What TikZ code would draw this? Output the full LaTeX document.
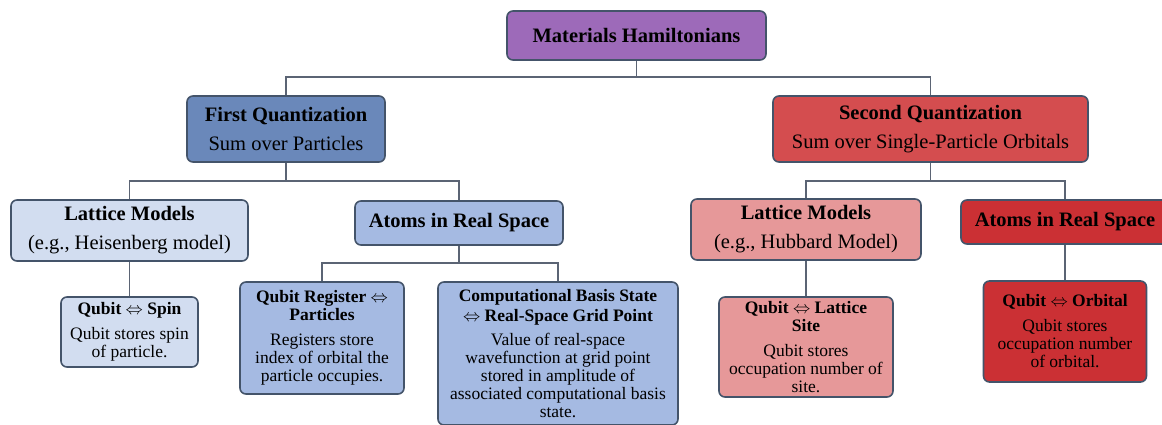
\documentclass[tikz,border=0pt]{standalone}
\usepackage{fontspec}
\setmainfont{Liberation Serif}

\definecolor{hamPurple}{HTML}{9D6AB9}
\definecolor{firstBlue}{HTML}{6A88BA}
\definecolor{paleBlue}{HTML}{D2DDF0}
\definecolor{midBlue}{HTML}{A5BAE2}
\definecolor{secondRed}{HTML}{D44D4F}
\definecolor{paleRed}{HTML}{E69899}
\definecolor{deepRed}{HTML}{CB3034}
\definecolor{boxLine}{HTML}{44546A}
\definecolor{linkGray}{HTML}{5B6474}

\begin{document}
\begin{tikzpicture}[x=1pt, y=-1pt,
  box/.style={draw=boxLine, line width=1.6pt, rounded corners=6pt, align=center, inner sep=2pt},
  head/.style={box, font=\fontsize{20.5}{29}\selectfont},
  leaf/.style={box, font=\fontsize{17.5}{18}\selectfont},
  link/.style={draw=linkGray, line width=1.3pt}]

\useasboundingbox (0,0) rectangle (1162,425);

\node[head, fill=hamPurple, minimum width=259, minimum height=49] (ham) at(636.5, 35.5) {\textbf{Materials Hamiltonians}};

\node[head, fill=firstBlue, minimum width=198, minimum height=66] (first)  at(286, 129) {\textbf{First Quantization}\\ Sum over Particles};
\node[head, fill=secondRed, minimum width=315, minimum height=66] (second) at(930.5, 129) {\textbf{Second Quantization}\\ Sum over Single-Particle Orbitals};

\node[head, fill=paleBlue, minimum width=237, minimum height=61] (latL)  at(129.5, 230.5) {\textbf{Lattice Models}\\ (e.g., Heisenberg model)};
\node[head, fill=midBlue,  minimum width=208, minimum height=44] (atomL) at(459, 223) {\textbf{Atoms in Real Space}};
\node[head, fill=paleRed,  minimum width=230, minimum height=61] (latR)  at(806, 229.5) {\textbf{Lattice Models}\\ (e.g., Hubbard Model)};
\node[head, fill=deepRed,  minimum width=208, minimum height=44] (atomR) at(1065, 222) {\textbf{Atoms in Real Space}};

\node[leaf, fill=paleBlue, minimum width=137, minimum height=70] (spin) at(129.5, 332)
  {\textbf{Qubit $\Leftrightarrow$ Spin}\\[7pt] Qubit stores spin\\ of particle.};
\node[leaf, fill=midBlue, minimum width=164, minimum height=112] (reg) at(322, 338)
  {\textbf{Qubit Register $\Leftrightarrow$}\\ \textbf{Particles}\\[7pt] Registers store\\ index of orbital the\\ particle occupies.};
\node[leaf, fill=midBlue, minimum width=240, minimum height=143] (comp) at(558, 353.5)
  {\textbf{Computational Basis State}\\[1.5pt] \textbf{$\Leftrightarrow$ Real-Space Grid Point}\\[6pt] Value of real-space\\ wavefunction at grid point\\ stored in amplitude of\\ associated computational basis\\ state.};
\node[leaf, fill=paleRed, minimum width=174, minimum height=100] (site) at(806, 347)
  {\textbf{Qubit $\Leftrightarrow$ Lattice}\\ \textbf{Site}\\[7pt] Qubit stores\\ occupation number of\\ site.};
\node[leaf, fill=deepRed, minimum width=163, minimum height=101] (orb) at(1065, 331.5)
  {\textbf{Qubit $\Leftrightarrow$ Orbital}\\[7pt] Qubit stores\\ occupation number\\ of orbital.};

% tree connectors
\coordinate (bus0) at(636.5, 77);
\coordinate (busL) at(286, 181);
\coordinate (busR) at(930.5, 181);
\coordinate (busA) at(459, 263);

\draw[link] (ham.south) -- (bus0) -| (first.north);
\draw[link] (bus0) -| (second.north);

\draw[link] (first.south) -- (busL) -| (latL.north);
\draw[link] (busL) -| (atomL.north);

\draw[link] (second.south) -- (busR) -| (latR.north);
\draw[link] (busR) -| (atomR.north);

\draw[link] (latL) -- (spin);
\draw[link] (atomL.south) -- (busA) -| (reg.north);
\draw[link] (busA) -| (comp.north);

\draw[link] (latR) -- (site);
\draw[link] (atomR) -- (orb);

\end{tikzpicture}
\end{document}
